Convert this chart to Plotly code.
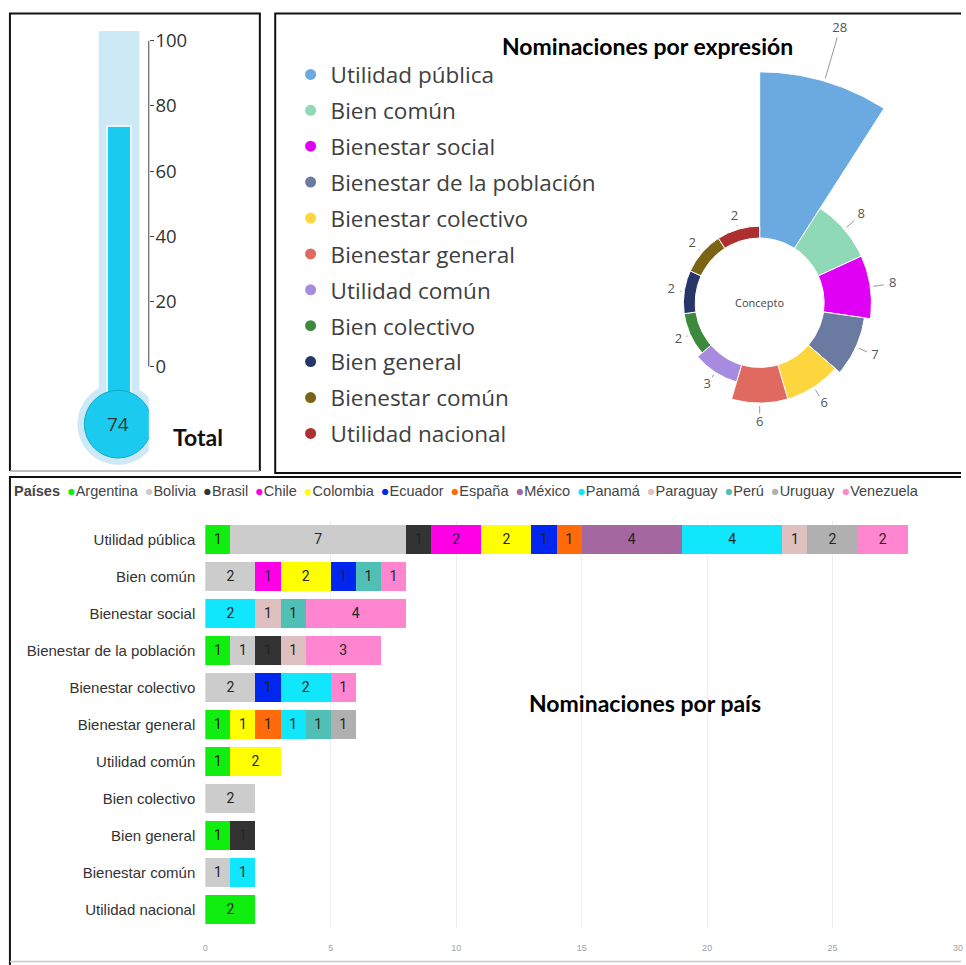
import numpy as np
import plotly.graph_objects as go

W, H = 966, 965

# ---------------- data ----------------
EXPRESSIONS = [
    "Utilidad pública", "Bien común", "Bienestar social", "Bienestar de la población",
    "Bienestar colectivo", "Bienestar general", "Utilidad común", "Bien colectivo",
    "Bien general", "Bienestar común", "Utilidad nacional",
]
EXPRESSION_TOTALS = [28, 8, 8, 7, 6, 6, 3, 2, 2, 2, 2]
EXPRESSION_COLORS = [
    "#6aaae0", "#8fd9b6", "#e000f3", "#6b7aa1", "#fdd53d", "#e06a60",
    "#a78bdf", "#3e8a3c", "#263668", "#7b6515", "#ad2f2f",
]

COUNTRIES = ["Argentina", "Bolivia", "Brasil", "Chile", "Colombia", "Ecuador", "España",
             "México", "Panamá", "Paraguay", "Perú", "Uruguay", "Venezuela"]
COUNTRY_COLORS = ["#0fee0f", "#cccccc", "#333333", "#ff00e6", "#ffff00", "#0026f0", "#ff6a0a",
                  "#a5679f", "#10e6fc", "#dfc0c0", "#50c0b6", "#b0b0b0", "#ff85d0"]

# nominations per expression (same order as EXPRESSIONS)
ARGENTINA = [1, 0, 0, 1, 0, 1, 1, 0, 1, 0, 2]
BOLIVIA   = [7, 2, 0, 1, 2, 0, 0, 2, 0, 1, 0]
BRASIL    = [1, 0, 0, 1, 0, 0, 0, 0, 1, 0, 0]
CHILE     = [2, 1, 0, 0, 0, 0, 0, 0, 0, 0, 0]
COLOMBIA  = [2, 2, 0, 0, 0, 1, 2, 0, 0, 0, 0]
ECUADOR   = [1, 1, 0, 0, 1, 0, 0, 0, 0, 0, 0]
ESPANA    = [1, 0, 0, 0, 0, 1, 0, 0, 0, 0, 0]
MEXICO    = [4, 0, 0, 0, 0, 0, 0, 0, 0, 0, 0]
PANAMA    = [4, 0, 2, 0, 2, 1, 0, 0, 0, 1, 0]
PARAGUAY  = [1, 0, 1, 1, 0, 0, 0, 0, 0, 0, 0]
PERU      = [0, 1, 1, 0, 0, 1, 0, 0, 0, 0, 0]
URUGUAY   = [2, 0, 0, 0, 0, 1, 0, 0, 0, 0, 0]
VENEZUELA = [2, 1, 4, 3, 1, 0, 0, 0, 0, 0, 0]
COUNTRY_SERIES = [ARGENTINA, BOLIVIA, BRASIL, CHILE, COLOMBIA, ECUADOR, ESPANA,
                  MEXICO, PANAMA, PARAGUAY, PERU, URUGUAY, VENEZUELA]

TOTAL_NOMINATIONS = 74
THERMO_TICKS = [0, 20, 40, 60, 80, 100]
BAR_TICKS = [0, 5, 10, 15, 20, 25, 30]


def px(x):
    return x / W


def py(y):
    return 1 - y / H


fig = go.Figure()

# ---------------- stacked bars: nominations per country ----------------
for name, vals, color in zip(COUNTRIES, COUNTRY_SERIES, COUNTRY_COLORS):
    fig.add_bar(
        y=EXPRESSIONS, x=[v if v else None for v in vals], orientation="h",
        name=name, marker=dict(color=color, line_width=0),
        texttemplate="%{x}", textposition="inside", insidetextanchor="middle",
        textangle=0, textfont=dict(family="Roboto", size=14, color="#252423"),
        xaxis="x", yaxis="y", showlegend=False,
    )

# ---------------- thermometer ----------------
FILL_BASE = -12
fig.add_bar(
    x=[0], y=[TOTAL_NOMINATIONS - FILL_BASE], base=[FILL_BASE], width=[25],
    marker=dict(color="#1acbef", line=dict(color="#e6f6fc", width=2)),
    xaxis="x2", yaxis="y2", showlegend=False, hoverinfo="skip",
)

# ---------------- rose of expressions ----------------
R_IN, K = 65.0, 5.96
n = len(EXPRESSIONS)
step = 360.0 / n
lead_x, lead_y, lab_x, lab_y = [], [], [], []
for i, (name, v, color) in enumerate(zip(EXPRESSIONS, EXPRESSION_TOTALS, EXPRESSION_COLORS)):
    t = np.radians(np.linspace(i * step, (i + 1) * step, 48))
    r_out = R_IN + K * v
    xs = np.concatenate([r_out * np.sin(t), R_IN * np.sin(t[::-1])])
    ys = np.concatenate([r_out * np.cos(t), R_IN * np.cos(t[::-1])])
    fig.add_scatter(
        x=np.append(xs, xs[0]), y=np.append(ys, ys[0]), mode="lines", fill="toself",
        fillcolor=color, line=dict(color="white", width=1), name=name,
        xaxis="x3", yaxis="y3", showlegend=False, hoverinfo="name",
    )
    mid = np.radians((i + 0.5) * step)
    r_lab = r_out + 10 + 1.6 * v
    a, b = r_out + 3, r_lab - 9
    lead_x += [a * np.sin(mid), b * np.sin(mid), None]
    lead_y += [a * np.cos(mid), b * np.cos(mid), None]
    lab_x.append(r_lab * np.sin(mid))
    lab_y.append(r_lab * np.cos(mid))
    # legend entry
    fig.add_scatter(
        x=[None], y=[None], mode="markers", marker=dict(size=11, color=color),
        name=name, legend="legend2", legendgroup=name, xaxis="x3", yaxis="y3",
    )

fig.add_scatter(x=lead_x, y=lead_y, mode="lines", line=dict(color="#9a9a9a", width=1),
                xaxis="x3", yaxis="y3", showlegend=False, hoverinfo="skip")
fig.add_scatter(x=lab_x, y=lab_y, mode="text", text=[str(v) for v in EXPRESSION_TOTALS],
                textfont=dict(family="Open Sans", size=13, color="#555555"),
                xaxis="x3", yaxis="y3", showlegend=False, hoverinfo="skip", cliponaxis=False)

# ---------------- shapes: panels and thermometer body ----------------
BLACK = "#111111"
shapes = []
# left panel
shapes.append(dict(type="path", xref="paper", yref="paper",
                   path=f"M {px(7)},{py(469)} L {px(7)},{py(9.5)} L {px(259)},{py(9.5)} L {px(259)},{py(469)}",
                   line=dict(color=BLACK, width=2)))
shapes.append(dict(type="line", xref="paper", yref="paper", x0=px(7), x1=px(259), y0=py(469), y1=py(469),
                   line=dict(color="#aaaaaa", width=1.5)))
# right panel
shapes.append(dict(type="path", xref="paper", yref="paper",
                   path=f"M {px(966)},{py(471)} L {px(274.5)},{py(471)} L {px(274.5)},{py(9.5)} L {px(966)},{py(9.5)}",
                   line=dict(color=BLACK, width=2)))
# bottom panel
shapes.append(dict(type="path", xref="paper", yref="paper",
                   path=f"M {px(966)},{py(475)} L {px(7)},{py(475)} L {px(7)},{py(965)}",
                   line=dict(color=BLACK, width=2)))
shapes.append(dict(type="line", xref="paper", yref="paper", x0=px(7), x1=px(966), y0=py(961.5), y1=py(961.5),
                   line=dict(color="#c8c8c8", width=1.5)))

BULB_Y = -17.7
Y_SCALE = 3.27
shapes.append(dict(type="rect", xref="x2", yref="y2", x0=-20.5, x1=20.5, y0=-15, y1=103,
                   fillcolor="#cde9f5", line_width=0, layer="below"))
shapes.append(dict(type="circle", xref="x2", yref="y2", x0=-42, x1=40,
                   y0=BULB_Y - 41 / Y_SCALE, y1=BULB_Y + 41 / Y_SCALE,
                   fillcolor="#cde9f5", line_width=0, layer="below"))
shapes.append(dict(type="circle", xref="x2", yref="y2", x0=-35, x1=33,
                   y0=BULB_Y - 34 / Y_SCALE, y1=BULB_Y + 34 / Y_SCALE,
                   fillcolor="#1acbef", line=dict(color="#12a9cb", width=1), layer="above"))
shapes.append(dict(type="line", xref="paper", yref="y2", x0=px(147), x1=px(147), y0=0, y1=100,
                   line=dict(color="#444444", width=1)))

# ---------------- annotations ----------------
legend_line = "<b>Países</b> \u2009" + " \u2009".join(
    f"<span style='color:{c}'>●</span>{name}" for name, c in zip(COUNTRIES, COUNTRY_COLORS)
)
TITLE_FONT = dict(family="Lato", size=23, color="#000000")
annotations = [
    dict(text="<b>Nominaciones por expresión</b>", xref="paper", yref="paper", x=px(650), y=py(42),
         xanchor="center", yanchor="middle", showarrow=False, font=TITLE_FONT),
    dict(text="Concepto", xref="x3", yref="y3", x=0, y=0, showarrow=False,
         font=dict(family="Open Sans", size=11, color="#444444")),
    dict(text=str(TOTAL_NOMINATIONS), xref="x2", yref="y2", x=-1, y=BULB_Y, showarrow=False,
         yanchor="middle", font=dict(family="Open Sans", size=19, color="#333333")),
    dict(text="<b>Total</b>", xref="paper", yref="paper", x=px(197), y=py(435), showarrow=False,
         xanchor="center", yanchor="middle", font=dict(family="Lato", size=23, color="#111111")),
    dict(text="<b>Nominaciones por país</b>", xref="paper", yref="paper", x=px(647), y=py(702),
         xanchor="center", yanchor="middle", showarrow=False, font=TITLE_FONT),
    dict(text=legend_line, xref="paper", yref="paper", x=px(9), y=py(489), xanchor="left",
         yanchor="middle", showarrow=False,
         font=dict(family="Liberation Sans", size=14.5, color="#444444")),
]

fig.update_layout(
    width=W, height=H, autosize=False,
    margin=dict(l=0, r=0, t=0, b=0),
    paper_bgcolor="white", plot_bgcolor="rgba(0,0,0,0)",
    barmode="stack", bargap=0.22,
    showlegend=True,
    legend2=dict(x=px(290), y=py(49.5), xanchor="left", yanchor="top",
                 font=dict(family="Open Sans", size=22.5, color="#404040"),
                 bgcolor="rgba(0,0,0,0)", traceorder="grouped", tracegroupgap=3.65),
    xaxis=dict(domain=[px(204), px(963)], range=[0, 30], tickvals=BAR_TICKS, showgrid=True,
               gridcolor="#eeeeee", zeroline=False, showline=False, anchor="y",
               tickfont=dict(family="Liberation Sans", size=9, color="#a0a0a0"),
               ticklabelstandoff=13, ticklabeloverflow="allow", fixedrange=True),
    yaxis=dict(domain=[py(927.6), py(519)], autorange="reversed", type="category", anchor="x",
               showgrid=False, zeroline=False,
               tickfont=dict(family="Liberation Sans", size=15, color="#333333"),
               ticklabelstandoff=9, fixedrange=True),
    xaxis2=dict(domain=[px(20), px(147)], range=[-97, 30], visible=False, anchor="y2", fixedrange=True),
    yaxis2=dict(domain=[py(364 + 31 * Y_SCALE), py(364 - 103 * Y_SCALE)], range=[-31, 103],
                side="right", anchor="x2", ticks="outside", ticklen=4, tickcolor="#444444",
                tickvals=THERMO_TICKS, showgrid=False, zeroline=False, showline=False,
                ticklabelstandoff=-2,
                tickfont=dict(family="Open Sans", size=18.5, color="#333333"), fixedrange=True),
    xaxis3=dict(domain=[px(560), 1], range=[-203, 203], visible=False, anchor="y3", fixedrange=True),
    yaxis3=dict(domain=[py(470), 1], range=[-170, 300], visible=False, anchor="x3", fixedrange=True),
    shapes=shapes,
    annotations=annotations,
)

fig.write_html("out.html")
